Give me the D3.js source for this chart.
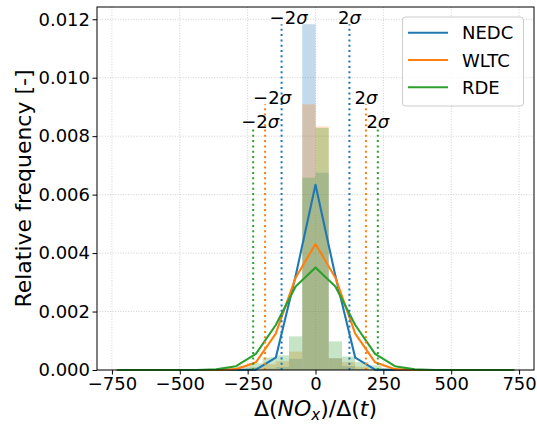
<!DOCTYPE html>
<html><head><meta charset="utf-8">
<script src="https://cdn.jsdelivr.net/npm/d3@7"></script>
<style>body{margin:0;background:#fff} text{font-family:"DejaVu Sans",sans-serif;fill:#000}</style>
</head><body><svg id="c" width="537" height="424"></svg>
<script>
const seriesNames = ["NEDC","WLTC","RDE"];
const seriesColors = ["#1f77b4","#ff7f0e","#2ca02c"];
const binEdges = [-732,-683.2,-634.4,-585.6,-536.8,-488,-439.2,-390.4,-341.6,-292.8,-244,-195.2,-146.4,-97.6,-48.8,0,48.8,97.6,146.4,195.2,244,292.8,341.6,390.4,439.2,488,536.8,585.6,634.4,683.2,732];
const histNEDC = [0,0,0,0,0,0,0,0,0,0,0,0.00005,0.0001,0.00038,0.01183,0.00675,0.0004,0.00013,0.00004,0,0,0,0,0.00002,0,0,0,0,0,0];
const histWLTC = [0,0,0,0,0,0,0,0,0,0,0.0001,0.0002,0.0003,0.00063,0.00909,0.00833,0.0004,0.00027,0.00011,0.00004,0,0,0,0,0,0,0,0,0,0];
const histRDE  = [0,0,0,0,0,0,0,0,0.00003,0.00013,0.00023,0.00043,0.0005,0.00115,0.00658,0.00828,0.00098,0.00046,0.00027,0.00016,0.00007,0,0.00002,0.00003,0,0,0,0,0,0];
const curveX = [-732,-658.8,-585.6,-512.4,-439.2,-366,-292.8,-219.6,-146.4,-73.2,0,73.2,146.4,219.6,292.8,366,439.2,512.4,585.6,658.8,732];
const curveNEDC = [0,0,0,0,0,0,0,0.0000143,0.000423,0.003221,0.00634,0.003221,0.000423,0.0000143,0,0,0,0,0,0,0];
const curveWLTC = [0,0,0,0,0,0.0000018,0.0000297,0.000262,0.001242,0.003158,0.00431,0.003158,0.001242,0.000262,0.0000297,0.0000018,0,0,0,0,0];
const curveRDE  = [0,0,0,0,0.0000021,0.0000203,0.00013,0.000549,0.001539,0.002856,0.00351,0.002856,0.001539,0.000549,0.00013,0.0000203,0.0000021,0,0,0,0];
const sigmas = [62.5, 92.9, 114.8];
const xTicks = [-750,-500,-250,0,250,500,750];
const yTicks = [0,0.002,0.004,0.006,0.008,0.010,0.012];

const hists = [histNEDC, histWLTC, histRDE];
const curves = [curveNEDC, curveWLTC, curveRDE];

const svg = d3.select("#c");
const L = 97, R = 534, T = 7, B = 370;
const x = d3.scaleLinear().domain([-805, 805]).range([L, R]);
const y = d3.scaleLinear().domain([0, 0.01242]).range([B, T]);

// grid
const grid = svg.append("g").attr("stroke", "#c4c4c4").attr("stroke-width", 0.8).attr("stroke-dasharray", "1,1.6");
xTicks.forEach(t => grid.append("line").attr("x1", x(t)).attr("x2", x(t)).attr("y1", T).attr("y2", B));
yTicks.forEach(t => grid.append("line").attr("x1", L).attr("x2", R).attr("y1", y(t)).attr("y2", y(t)));

// histograms
hists.forEach((h, s) => {
  svg.append("g").selectAll("rect").data(h.map((v, i) => ({v, i})).filter(d => d.v > 0)).join("rect")
    .attr("x", d => x(binEdges[d.i]))
    .attr("width", d => x(binEdges[d.i + 1]) - x(binEdges[d.i]))
    .attr("y", d => y(d.v))
    .attr("height", d => y(0) - y(d.v))
    .attr("fill", seriesColors[s]).attr("fill-opacity", 0.27);
});

// curves, sigma lines, labels
const line = d3.line().x((d, i) => x(curveX[i])).y(d => y(d));
curves.forEach((c, s) => {
  svg.append("path").attr("d", line(c)).attr("fill", "none")
    .attr("stroke", seriesColors[s]).attr("stroke-width", 2.1).attr("stroke-linejoin", "round");
});
curves.forEach((c, s) => {
  const top = d3.max(hists[s]);
  [-2, 2].forEach(m => {
    svg.append("line").attr("x1", x(m * sigmas[s])).attr("x2", x(m * sigmas[s]))
      .attr("y1", y(0)).attr("y2", y(top))
      .attr("stroke", seriesColors[s]).attr("stroke-width", 2).attr("stroke-dasharray", "2,3.3");
    const t = svg.append("text").attr("x", x(m * sigmas[s]) + (m < 0 ? 7 : 0)).attr("y", y(top))
      .attr("text-anchor", "middle").attr("font-size", 18);
    t.append("tspan").text(m < 0 ? "\u22122" : "2");
    t.append("tspan").attr("font-style", "italic").text("σ");
  });
});

// axes
const xa = svg.append("g").attr("transform", `translate(0,${B})`)
  .call(d3.axisBottom(x).tickValues(xTicks).tickSize(4.5).tickPadding(3).tickFormat(d3.format("d")));
const ya = svg.append("g").attr("transform", `translate(${L},0)`)
  .call(d3.axisLeft(y).tickValues(yTicks).tickSize(4.5).tickPadding(2.5).tickFormat(d3.format(".3f")));
[xa, ya].forEach(a => {
  a.select(".domain").remove();
  a.selectAll("text").attr("font-size", 18).attr("font-family", "DejaVu Sans").attr("fill", "#000");
  a.selectAll("line").attr("stroke", "#000").attr("stroke-width", 1);
});
svg.append("rect").attr("x", L).attr("y", T).attr("width", R - L).attr("height", B - T)
  .attr("fill", "none").attr("stroke", "#000").attr("stroke-width", 1);

// axis labels
const xl = svg.append("text").attr("x", (L + R) / 2).attr("y", 416).attr("text-anchor", "middle").attr("font-size", 22);
xl.append("tspan").text("Δ(");
xl.append("tspan").attr("font-style", "italic").text("NO");
xl.append("tspan").attr("font-style", "italic").attr("font-size", 15).attr("dy", 4).text("x");
xl.append("tspan").attr("dy", -4).text(")/Δ(");
xl.append("tspan").attr("font-style", "italic").text("t");
xl.append("tspan").text(")");
svg.append("text").attr("transform", `translate(31,${(T + B) / 2}) rotate(-90)`)
  .attr("text-anchor", "middle").attr("font-size", 22).text("Relative frequency [-]");

// legend
const lg = svg.append("g");
lg.append("rect").attr("x", 402.5).attr("y", 17).attr("width", 121).attr("height", 89).attr("rx", 3)
  .attr("fill", "#fff").attr("fill-opacity", 0.8).attr("stroke", "#cccccc").attr("stroke-width", 1);
seriesNames.forEach((n, i) => {
  const yy = 32.7 + i * 27.3;
  lg.append("line").attr("x1", 408).attr("x2", 448).attr("y1", yy).attr("y2", yy)
    .attr("stroke", seriesColors[i]).attr("stroke-width", 2);
  lg.append("text").attr("x", 462).attr("y", yy + 6.5).attr("font-size", 18).text(n);
});
</script></body></html>
